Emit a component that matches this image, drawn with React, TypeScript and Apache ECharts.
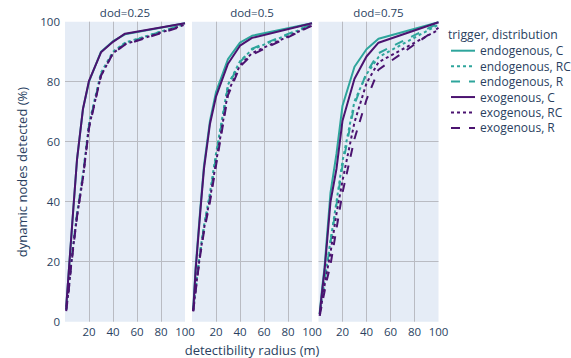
import React, { useEffect, useRef } from "react";
import * as echarts from "echarts";

// detectability radius (m) sampled
const radius = [1, 3, 5, 7, 10, 15, 20, 30, 40, 50, 100];
const panelTitles = ["dod=0.25", "dod=0.5", "dod=0.75"];
const seriesNames = [
  "endogenous, C",
  "endogenous, RC",
  "endogenous, R",
  "exogenous, C",
  "exogenous, RC",
  "exogenous, R",
];
const xTickValues = [0, 20, 40, 60, 80, 100];
const yTickValues = [0, 20, 40, 60, 80, 100];

// dod = 0.25
const d25_endoC = [5, 16, 27, 38, 54, 71, 80, 90, 93.5, 95.8, 99.5];
const d25_endoRC = [4, 11, 19, 26, 36, 49, 66, 83, 90, 93, 99.2];
const d25_endoR = [4, 11, 19, 26, 36, 49, 65.5, 82.5, 89.5, 92.8, 99.2];
const d25_exoC = [5, 16, 27, 38, 54, 71, 80.3, 89.8, 93.3, 96, 99.5];
const d25_exoRC = [4, 10.5, 18.5, 25.5, 35, 48, 65, 82, 89.5, 92.5, 99];
const d25_exoR = [3.5, 10, 18, 25, 35, 48, 64.5, 82, 89.5, 92.3, 98.8];

// dod = 0.5
const d50_endoC = [4, 18, 28, 38, 52, 67, 76.5, 87.5, 93, 95.3, 99.5];
const d50_endoRC = [4, 11, 18, 24, 32, 43, 56, 79, 86.8, 90.7, 99];
const d50_endoR = [4, 11, 17.5, 23.5, 31.5, 42, 55, 78.5, 86.5, 91, 99.2];
const d50_exoC = [3.5, 17, 27, 37, 51, 66, 75, 86, 92, 94.6, 99.5];
const d50_exoRC = [3.5, 10.5, 17, 23, 31, 41, 53, 76.5, 85.5, 89.5, 98.8];
const d50_exoR = [3.5, 10, 16.5, 22.5, 30, 40, 52, 75.5, 85, 89, 98.7];

// dod = 0.75
const d75_endoC = [3, 11, 18, 28, 43, 56, 72, 85, 90.8, 94.3, 99.8];
const d75_endoRC = [2.5, 8, 14, 19, 27, 40, 53.5, 73.5, 82.5, 88.2, 99];
const d75_endoR = [2.5, 7.5, 13.5, 18.5, 26.5, 39, 52, 72.5, 83, 89.5, 99.5];
const d75_exoC = [2.5, 10, 17, 26, 40, 51, 67, 81, 88.4, 93, 99.8];
const d75_exoRC = [2, 7, 12, 16.5, 23, 36, 47, 66.5, 79.5, 86.5, 97.3];
const d75_exoR = [2, 6, 10, 14, 19, 31, 43, 61, 74, 84, 98];

const panels = [
  [d25_endoC, d25_endoRC, d25_endoR, d25_exoC, d25_exoRC, d25_exoR],
  [d50_endoC, d50_endoRC, d50_endoR, d50_exoC, d50_exoRC, d50_exoR],
  [d75_endoC, d75_endoRC, d75_endoR, d75_exoC, d75_exoRC, d75_exoR],
];

const TEAL = "#2ea59c";
const PURPLE = "#4b1370";
const seriesColors = [TEAL, TEAL, TEAL, PURPLE, PURPLE, PURPLE];
const seriesDash: any[] = ["solid", [3, 3], [9, 9], "solid", [3, 3], [9, 9]];

const TEXT = "#2a3f5f";
const FONT = '"Open Sans", verdana, arial, sans-serif';
const GRIDC = "#b9bbc2";
const BG = "#E5ECF6";

const gridLefts = [65, 192, 318.5];
const GRID_TOP = 21.7;
const GRID_W = 120;
const GRID_H = 300;

export default function App() {
  const ref = useRef<HTMLDivElement>(null);
  useEffect(() => {
    if (!ref.current) return;
    const chart = echarts.init(ref.current, null, { renderer: "svg" });

    const grids = gridLefts.map((l) => ({
      left: l,
      top: GRID_TOP,
      width: GRID_W,
      height: GRID_H,
      show: true,
      backgroundColor: BG,
      borderWidth: 0,
    }));

    const xAxes = gridLefts.map((_, i) => ({
      type: "value",
      gridIndex: i,
      min: xTickValues[0],
      max: xTickValues[xTickValues.length - 1],
      interval: 20,
      axisLine: { show: false },
      axisTick: { show: false },
      axisLabel: {
        color: TEXT,
        fontFamily: FONT,
        fontSize: 11.5,
        margin: 4,
        formatter: (v: number) => (v === 0 ? "" : String(v)),
      },
      splitLine: {
        show: true,
        showMinLine: false,
        showMaxLine: false,
        lineStyle: { color: GRIDC, width: 1 },
      },
    }));

    const yAxes = gridLefts.map((_, i) => ({
      type: "value",
      gridIndex: i,
      min: yTickValues[0],
      max: yTickValues[yTickValues.length - 1],
      interval: 20,
      axisLine: { show: false },
      axisTick: { show: false },
      axisLabel: {
        show: i === 0,
        color: TEXT,
        fontFamily: FONT,
        fontSize: 11.5,
        margin: 5,
      },
      splitLine: {
        show: true,
        showMinLine: false,
        showMaxLine: false,
        lineStyle: { color: GRIDC, width: 1 },
      },
    }));

    const series: any[] = [];
    panels.forEach((panel, p) => {
      panel.forEach((vals, s) => {
        series.push({
          type: "line",
          name: seriesNames[s],
          xAxisIndex: p,
          yAxisIndex: p,
          data: radius.map((r, k) => [r, vals[k]]),
          symbol: "none",
          showSymbol: false,
          z: s >= 3 ? 3 : 2,
          lineStyle: { color: seriesColors[s], width: 2, type: seriesDash[s] },
          itemStyle: { color: seriesColors[s] },
        });
      });
    });

    const graphics: any[] = [];
    panelTitles.forEach((t, i) => {
      graphics.push({
        type: "text",
        x: gridLefts[i] + GRID_W / 2,
        y: 12,
        style: {
          text: t,
          fill: TEXT,
          font: `11.5px ${FONT}`,
          textAlign: "center",
          textVerticalAlign: "middle",
        },
      });
    });
    graphics.push({
      type: "text",
      x: 252,
      y: 350,
      style: {
        text: "detectibility radius (m)",
        fill: TEXT,
        font: `13px ${FONT}`,
        textAlign: "center",
        textVerticalAlign: "middle",
      },
    });
    graphics.push({
      type: "text",
      x: 22,
      y: 172,
      rotation: Math.PI / 2,
      style: {
        text: "dynamic nodes detected (%)",
        fill: TEXT,
        font: `13px ${FONT}`,
        textAlign: "center",
        textVerticalAlign: "middle",
      },
    });
    graphics.push({
      type: "text",
      x: 448,
      y: 34,
      style: {
        text: "trigger, distribution",
        fill: TEXT,
        font: `12.2px ${FONT}`,
        textAlign: "left",
        textVerticalAlign: "middle",
      },
    });
    // legend entries
    seriesNames.forEach((name, s) => {
      const y = 50.7 + s * 15.45;
      graphics.push({
        type: "line",
        shape: { x1: 451, y1: y, x2: 475, y2: y },
        style: {
          stroke: seriesColors[s],
          lineWidth: 2,
          lineDash: seriesDash[s] === "solid" ? null : seriesDash[s],
        },
      });
      graphics.push({
        type: "text",
        x: 480,
        y,
        style: {
          text: name,
          fill: TEXT,
          font: `12px ${FONT}`,
          textAlign: "left",
          textVerticalAlign: "middle",
        },
      });
    });

    chart.setOption({
      animation: false,
      backgroundColor: "#ffffff",
      grid: grids,
      xAxis: xAxes,
      yAxis: yAxes,
      series,
      graphic: graphics,
    });
    return () => chart.dispose();
  }, []);
  return (
    <div
      ref={ref}
      style={{ position: "absolute", left: 0, top: 0, width: 571, height: 358 }}
    />
  );
}
